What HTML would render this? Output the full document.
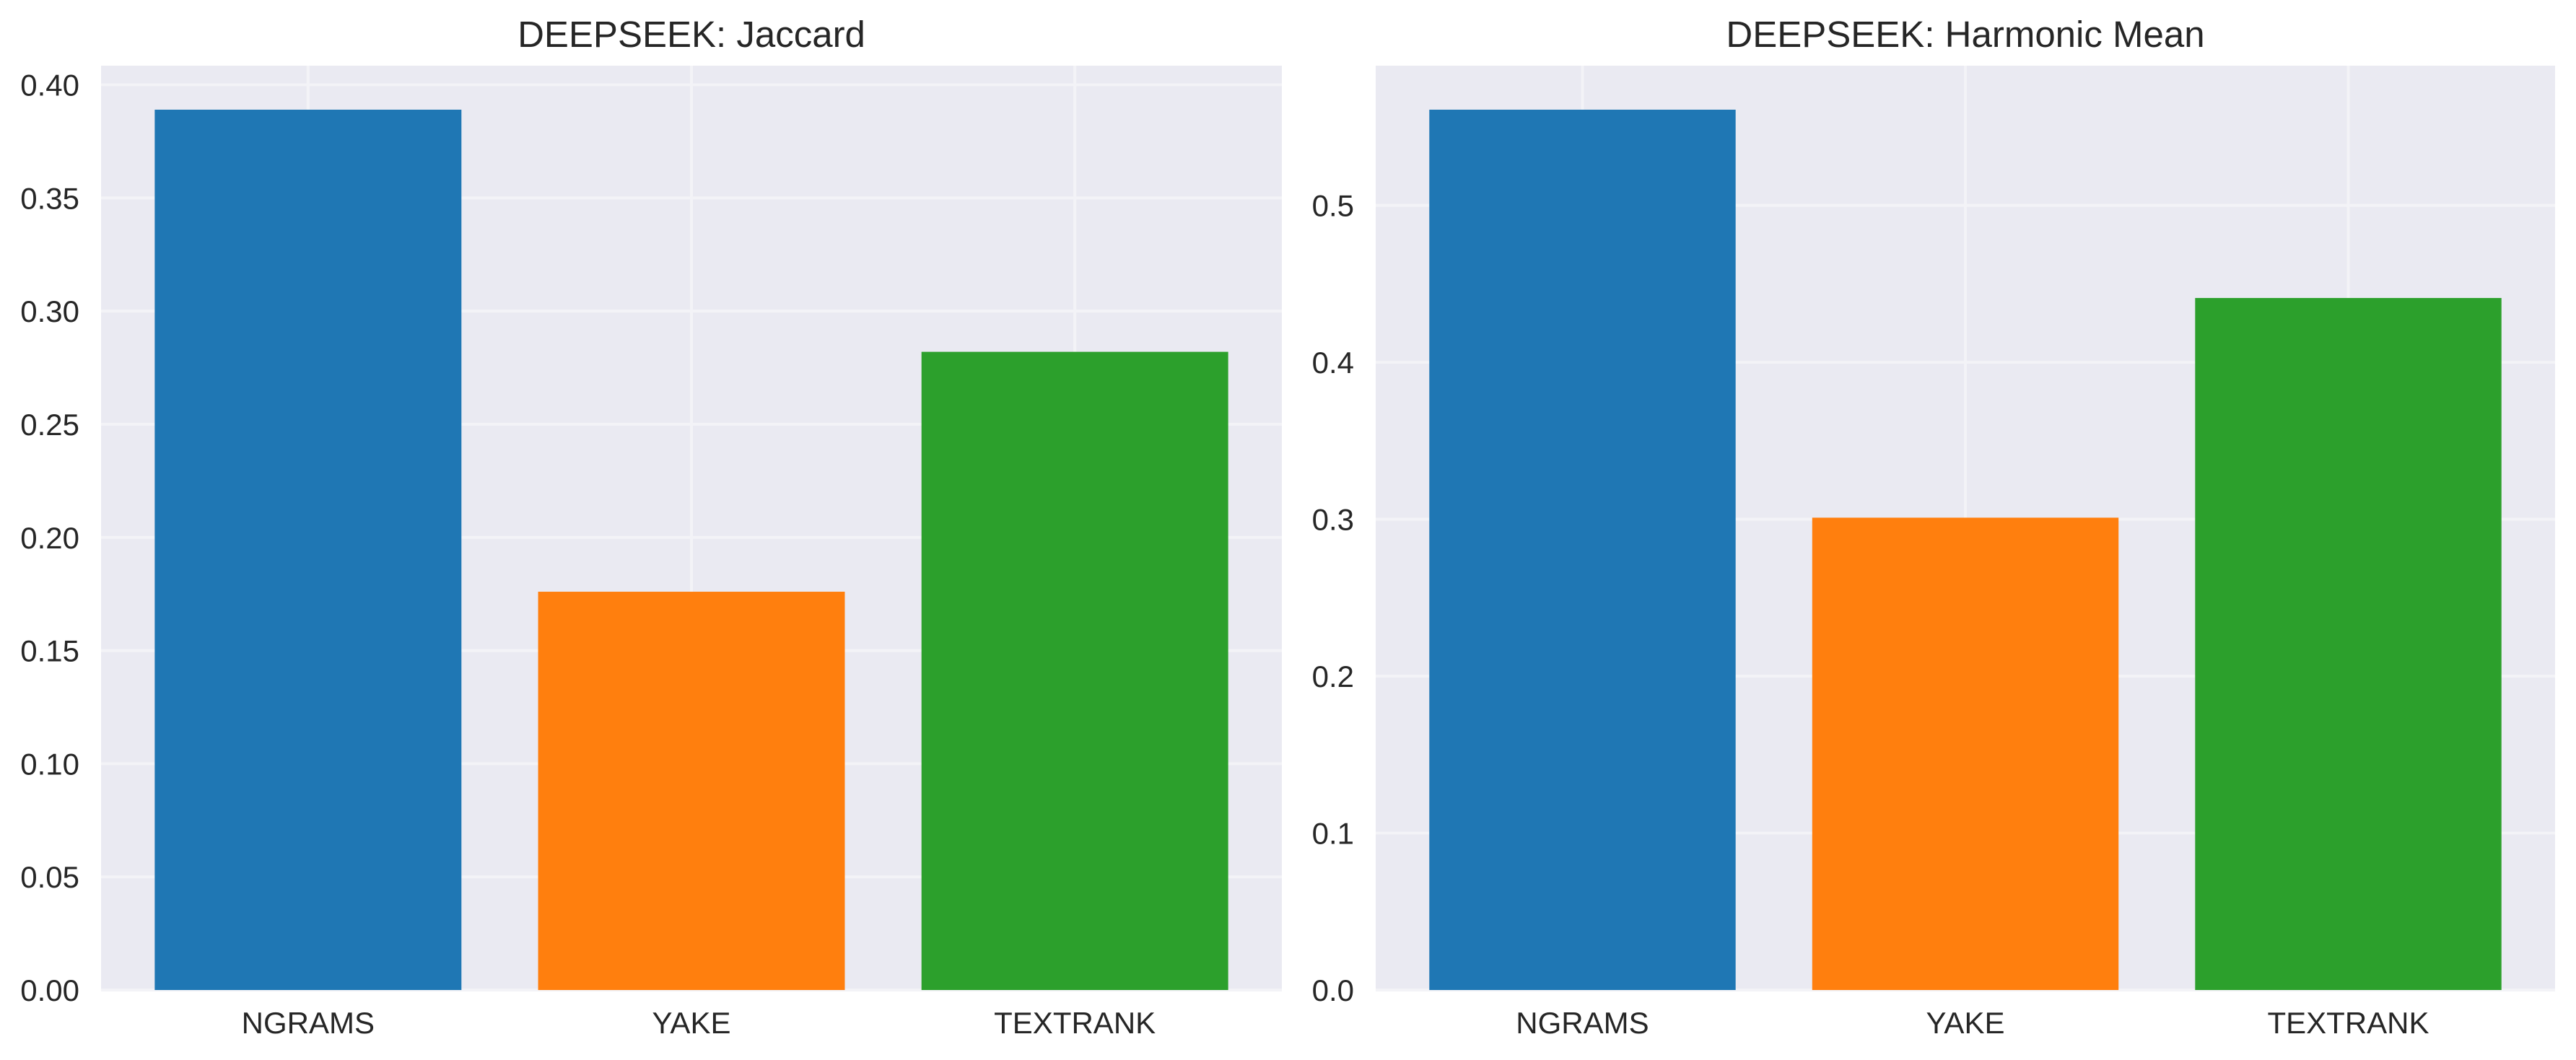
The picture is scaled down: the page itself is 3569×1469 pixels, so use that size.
<!DOCTYPE html>
<html><head><meta charset="utf-8"><style>
html,body{margin:0;padding:0;background:#fff;}
svg{display:block;font-family:"Liberation Sans",Arial,sans-serif;}
</style></head><body>
<svg id="chart" width="3569" height="1469" viewBox="0 0 3569 1469"></svg>
<script>
const categories = ["NGRAMS","YAKE","TEXTRANK"];
const jaccardValues = [0.389, 0.176, 0.282];
const harmonicValues = [0.561, 0.301, 0.441];
const jaccardTicks = [0.00,0.05,0.10,0.15,0.20,0.25,0.30,0.35,0.40];
const jaccardTickLabels = ["0.00","0.05","0.10","0.15","0.20","0.25","0.30","0.35","0.40"];
const harmonicTicks = [0,0.1,0.2,0.3,0.4,0.5];
const harmonicTickLabels = ["0.0","0.1","0.2","0.3","0.4","0.5"];
const colors = ["#1f77b4","#ff7f0e","#2ca02c"];

const NS="http://www.w3.org/2000/svg";
const svg=document.getElementById('chart');
function mk(tag,attrs,parent){const e=document.createElementNS(NS,tag);for(const k in attrs)e.setAttribute(k,attrs[k]);(parent||svg).appendChild(e);return e;}

function panel(key,left,right,title,values,ticks,tickLabels){
  const top=91,bottom=1372;
  const g=mk('g',{});
  
  
  const ymax=Math.max(...values)*1.05;
  const xmin=-0.54,xmax=categories.length-1+0.54;
  const xs=v=>left+(v-xmin)/(xmax-xmin)*(right-left);
  const ys=v=>bottom-v/ymax*(bottom-top);
  const bg=mk('rect',{x:left,y:top,width:right-left,height:bottom-top,fill:'#eaeaf2'},g);
  
  
  ticks.forEach((t,i)=>{
    const y=ys(t);
    const gl=mk('line',{x1:left,x2:right,y1:y,y2:y,stroke:'#f3f3f7','stroke-width':4},g);
    
    
    const tl=mk('text',{x:left-30,y:y+15,'text-anchor':'end','font-size':42,fill:'#262626'},g);
    tl.textContent=tickLabels[i];
    
    
  });
  categories.forEach((c,i)=>{
    const x=xs(i);
    const gl=mk('line',{x1:x,x2:x,y1:top,y2:bottom,stroke:'#f3f3f7','stroke-width':4},g);
    
    
  });
  categories.forEach((c,i)=>{
    const x0=xs(i-0.4),x1=xs(i+0.4),y=ys(values[i]);
    const b=mk('rect',{x:x0,y:y,width:x1-x0,height:bottom-y,fill:colors[i]},g);
    
    
    const l=mk('text',{x:xs(i),y:1432,'text-anchor':'middle','font-size':42,fill:'#262626'},g);
    l.textContent=c;
    
    
  });
  const t=mk('text',{x:(left+right)/2,y:65,'text-anchor':'middle','font-size':51,fill:'#262626'},g);
  t.textContent=title;
  
  
}
panel('jaccard',140,1776,'DEEPSEEK: Jaccard',jaccardValues,jaccardTicks,jaccardTickLabels);
panel('harmonic',1906,3540,'DEEPSEEK: Harmonic Mean',harmonicValues,harmonicTicks,harmonicTickLabels);
</script>
</body></html>
